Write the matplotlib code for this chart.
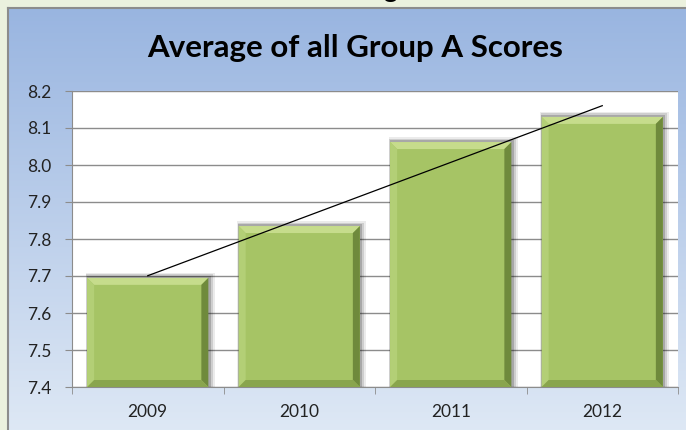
import numpy as np
import matplotlib
matplotlib.use("Agg")
import matplotlib.pyplot as plt
from matplotlib.patches import Rectangle, Polygon

# chart data
years = ["2009", "2010", "2011", "2012"]
scores = [7.695, 7.835, 8.062, 8.130]
y_ticks = [7.4, 7.5, 7.6, 7.7, 7.8, 7.9, 8.0, 8.1, 8.2]

W, H = 686, 430
fig = plt.figure(figsize=(W / 100, H / 100), dpi=100)
fig.patch.set_facecolor("#ebf1de")

# chart area with blue gradient
bg = fig.add_axes([8 / W, 0, (W - 8) / W, (H - 8) / H], zorder=0)
grad = np.linspace(0, 1, 256).reshape(-1, 1)
top = np.array([0.60, 0.71, 0.88])
bot = np.array([0.87, 0.91, 0.96])
img = top + (bot - top) * grad[..., None]
bg.imshow(img, aspect="auto", extent=[0, 1, 0, 1])
bg.set_xticks([])
bg.set_yticks([])
for s in ["right", "bottom"]:
    bg.spines[s].set_visible(False)
for s in ["left", "top"]:
    bg.spines[s].set_color("#8c8c8c")
    bg.spines[s].set_linewidth(1.5)

# tail of a heading cut off above the chart
fig.text(390 / W, 1 + 2 / H, "g", fontsize=19, fontweight="bold", family="Lato",
         ha="center", va="baseline", color="black")
fig.text(355 / W, 1 - 57 / H, "Average of all Group A Scores", fontsize=22.5,
         fontweight="bold", family="Lato", ha="center", va="baseline", color="black", zorder=5)

ax = fig.add_axes([72 / W, (H - 387) / H, 606 / W, 296 / H], zorder=2)
ax.set_facecolor("white")
x = np.arange(len(years))
ax.set_xlim(-0.5, len(years) - 0.5)
ax.set_ylim(y_ticks[0], y_ticks[-1])
ax.set_yticks(y_ticks)
ax.set_yticklabels([f"{t:.1f}" for t in y_ticks])
ax.set_xticks(x)
ax.set_xticklabels(years)
ax.set_xticks(np.arange(len(years) + 1) - 0.5, minor=True)
ax.tick_params(axis="x", which="major", length=0, pad=12)
ax.tick_params(axis="x", which="minor", length=5, color="#8c8c8c")
ax.tick_params(axis="y", length=5, color="#8c8c8c", pad=10)
for lab in ax.get_xticklabels() + ax.get_yticklabels():
    lab.set_fontfamily("Lato")
    lab.set_fontsize(12.5)
    lab.set_color("#222222")
ax.grid(axis="y", color="#8c8c8c", linewidth=1)
ax.set_axisbelow(True)
for s in ["top", "right"]:
    ax.spines[s].set_visible(False)
ax.spines["left"].set_color("#8c8c8c")
ax.spines["bottom"].set_color("#8c8c8c")

bw = 0.8
px_x = (len(years)) / 606.0
px_y = (y_ticks[-1] - y_ticks[0]) / 296.0
bx = 7 * px_x
by = 7 * px_y
base = y_ticks[0]

for xi, v in zip(x, scores):
    l, r = xi - bw / 2, xi + bw / 2
    # soft shadow
    for k, a in zip([5, 3.5, 2], [0.08, 0.12, 0.18]):
        ax.add_patch(Rectangle((l - k * px_x * 0.3, base), bw + k * px_x * 1.6, v - base + k * px_y,
                               facecolor="black", alpha=a, edgecolor="none", zorder=2))
    ax.add_patch(Rectangle((l, base), bw, v - base, facecolor="#a6c465", edgecolor="none", zorder=3))
    # bevel edges
    ax.add_patch(Polygon([(l, v), (r, v), (r - bx, v - by), (l + bx, v - by)],
                         facecolor="#c6dc8c", edgecolor="none", zorder=4))
    ax.add_patch(Polygon([(l, base), (l, v), (l + bx, v - by), (l + bx, base + by)],
                         facecolor="#b3cf76", edgecolor="none", zorder=4))
    ax.add_patch(Polygon([(r, base), (r, v), (r - bx, v - by), (r - bx, base + by)],
                         facecolor="#6f8a3c", edgecolor="none", zorder=4))
    ax.add_patch(Polygon([(l, base), (r, base), (r - bx, base + by), (l + bx, base + by)],
                         facecolor="#89a54d", edgecolor="none", zorder=4))

# linear trendline
coef = np.polyfit(x, scores, 1)
ax.plot([x[0], x[-1]], np.polyval(coef, [x[0], x[-1]]), color="black", linewidth=0.9, zorder=6)

fig.savefig("out.png", dpi=100, facecolor=fig.get_facecolor())
